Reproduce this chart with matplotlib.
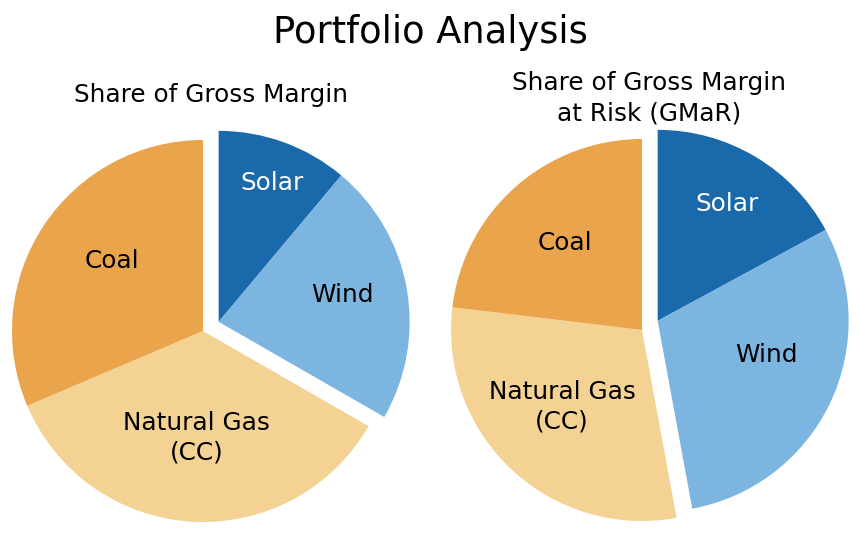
import matplotlib
matplotlib.use("Agg")
import matplotlib.pyplot as plt
import numpy as np

# ----------------------------
# DATA
# ----------------------------
SOURCES = ["Solar", "Wind", "Natural Gas\n(CC)", "Coal"]
GROSS_MARGIN_SHARE = [11.1, 22.2, 35.3, 31.4]
GMAR_SHARE = [17.1, 30.0, 29.8, 23.1]

COLORS = ["#1a6aab", "#7db5e1", "#f4d294", "#e9a44c"]
TEXT_COLORS = ["white", "black", "black", "black"]
RENEWABLE = [True, True, False, False]

FIG_W, FIG_H = 861, 537
RADIUS_PX = 191
SHIFT = (0.082, 0.048)  # offset of the renewables group, in radius units


def draw_pie(fig, center_px, values, label_dist, label_rot, subtitle, sub_xy):
    size = 2.5 * RADIUS_PX
    cx, cy = center_px
    ax = fig.add_axes([
        (cx - size / 2) / FIG_W,
        (FIG_H - cy - size / 2) / FIG_H,
        size / FIG_W,
        size / FIG_H,
    ])
    wedges, _ = ax.pie(
        values,
        colors=COLORS,
        startangle=90,
        counterclock=False,
        radius=1.0,
        wedgeprops=dict(linewidth=0),
    )
    for wedge, name, tcolor, renew, dist, rot in zip(
        wedges, SOURCES, TEXT_COLORS, RENEWABLE, label_dist, label_rot
    ):
        ox, oy = SHIFT if renew else (0.0, 0.0)
        if renew:
            wedge.set_center((ox, oy))
        mid = np.deg2rad((wedge.theta1 + wedge.theta2) / 2 + rot)
        ax.text(
            ox + dist * np.cos(mid),
            oy + dist * np.sin(mid),
            name,
            ha="center",
            va="center",
            color=tcolor,
            fontsize=17.8,
            linespacing=1.32,
        )
    ax.set_xlim(-1.25, 1.25)
    ax.set_ylim(-1.25, 1.25)
    ax.set_aspect("equal")
    ax.axis("off")

    fig.text(
        sub_xy[0] / FIG_W,
        1 - sub_xy[1] / FIG_H,
        subtitle,
        ha="center",
        va="baseline",
        fontsize=17.8,
        linespacing=1.32,
    )
    return ax


def main() -> None:
    fig = plt.figure(figsize=(FIG_W / 100, FIG_H / 100), dpi=100)
    fig.patch.set_facecolor("white")

    fig.text(0.5, 1 - 43 / FIG_H, "Portfolio Analysis", ha="center",
             va="baseline", fontsize=26.5)

    draw_pie(
        fig, (203, 331), GROSS_MARGIN_SHARE,
        label_dist=[0.78, 0.66, 0.56, 0.6],
        label_rot=[-1, 2, 0, -4],
        subtitle="Share of Gross Margin",
        sub_xy=(211.5, 102),
    )
    draw_pie(
        fig, (642, 330), GMAR_SHARE,
        label_dist=[0.71, 0.6, 0.58, 0.61],
        label_rot=[0, 8, -3, 0],
        subtitle="Share of Gross Margin\nat Risk (GMaR)",
        sub_xy=(649.5, 120),
    )

    fig.savefig("out.png", dpi=100, facecolor="white")
    plt.close(fig)


if __name__ == "__main__":
    main()
